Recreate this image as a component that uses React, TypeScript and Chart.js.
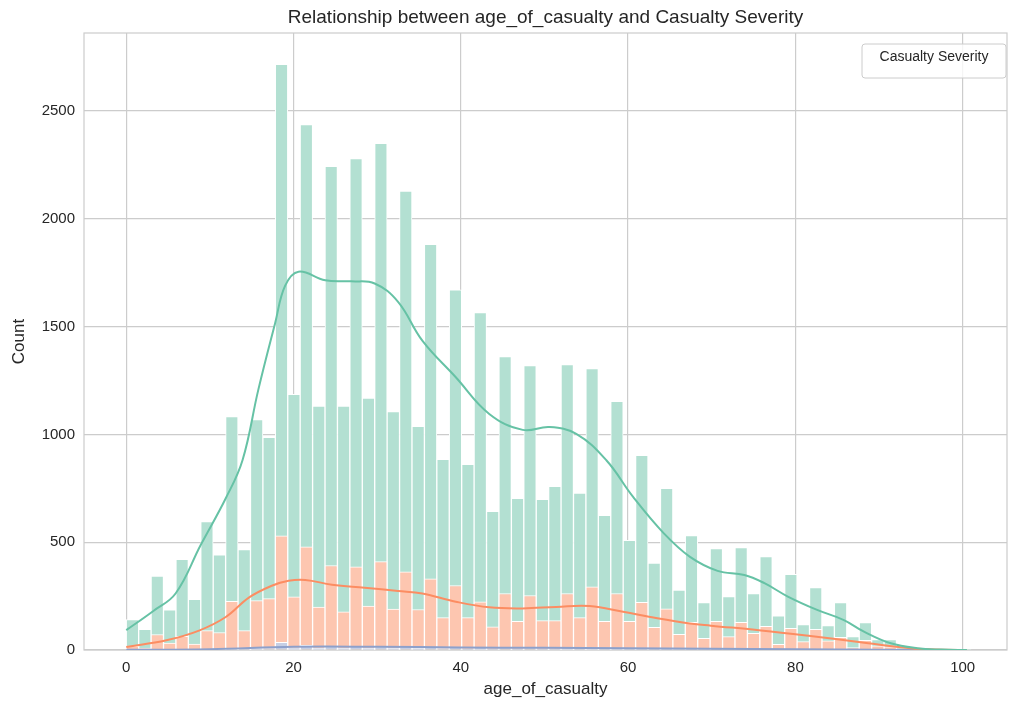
import React, { useEffect, useRef } from "react";
import { Chart, registerables } from "chart.js";
Chart.register(...registerables);

const BIN_WIDTH = 101 / 68;
const slightCounts = [141,96,343,186,420,235,596,442,1083,466,1069,987,2717,1186,2437,1132,2244,1132,2280,1168,2350,1106,2129,1037,1882,884,1671,861,1565,643,1361,704,1319,699,759,1324,728,1305,625,1153,509,903,403,750,278,531,220,471,248,475,262,433,159,351,118,289,113,220,62,127,48,48,15,5,3,1,1,1];
const seriousCounts = [18,9,72,32,63,27,90,81,226,90,229,238,530,247,478,199,392,177,386,204,410,190,363,188,330,150,299,150,224,108,262,133,253,136,136,262,150,293,133,262,133,221,105,191,73,128,54,133,62,128,77,110,26,101,39,96,43,59,11,45,19,15,5,2,1,0,0,0];
const fatalCounts = [1,0,1,0,2,1,3,2,6,3,8,7,35,10,22,9,18,8,17,9,16,8,15,8,14,7,13,6,12,5,11,6,11,5,6,10,6,9,5,8,4,6,3,5,2,4,2,3,2,3,2,2,1,2,1,1,1,1,0,1,0,0,0,0,0,0,0,0];

const slightKdeX = [0,3.2,5.9,8.9,11.9,13.9,15.8,17.8,19,20.6,23.8,26.9,29.7,32.5,35.4,39.4,43.4,47.4,50.6,53.8,57.4,60.6,64.3,67.4,70.7,73.9,76.3,79.1,82.6,85.8,88.2,91.4,94.6,97.5,100.5];
const slightKdeY = [92,180,262,487,704,880,1209,1516,1690,1755,1715,1710,1700,1615,1435,1265,1095,1021,1034,1003,880,710,540,432,367,348,310,248,186,139,85,31,8,2,0];
const seriousKdeX = [0,4.8,8.7,11.9,14.7,17.4,19.4,21.4,24.6,28.5,32.5,35.4,39.4,43.4,47.4,51.4,55.4,59.4,63.5,67.4,69.9,75.9,81.8,87.8,93.8,97.8,100.5];
const seriousKdeY = [14,45,90,153,244,298,321,325,303,289,274,262,224,198,193,200,204,177,147,123,113,91,65,36,8,1,0];
const fatalKdeX = [0,10,20,30,40,50,60,70,80,90,100];
const fatalKdeY = [1,4,15,15,12,10,8,6,4,1,0];

const xTicks = [0,20,40,60,80,100];
const yTicks = [0,500,1000,1500,2000,2500];

const GREEN = "#66c2a5", ORANGE = "#fc8d62", BLUE = "#8da0cb";
const GREEN_BAR = "rgb(179,224,210)", ORANGE_BAR = "rgb(253,198,176)", BLUE_BAR = "rgb(198,207,229)";
const FONT = "'Liberation Sans', Arial, sans-serif";

const bars = (arr: number[]) => arr.map((v, i) => ({ x: (i + 0.5) * BIN_WIDTH, y: v }));
const pts = (xs: number[], ys: number[]) => xs.map((x, i) => ({ x, y: ys[i] }));

export default function App() {
  const ref = useRef<HTMLCanvasElement>(null);
  useEffect(() => {
    document.body.style.margin = "0";
    const deco = {
      id: "deco",
      beforeDatasetsDraw(c: any) {
        const a = c.chartArea, ctx = c.ctx;
        ctx.save();
        ctx.strokeStyle = "#cccccc"; ctx.lineWidth = 1.2;
        ctx.strokeRect(a.left, a.top, a.right - a.left, a.bottom - a.top);
        ctx.restore();
      },
      afterDraw(c: any) {
        const a = c.chartArea, ctx = c.ctx;
        ctx.save();
        ctx.fillStyle = "#262626";
        ctx.textAlign = "center"; ctx.textBaseline = "middle";
        ctx.font = `19px ${FONT}`;
        ctx.fillText("Relationship between age_of_casualty and Casualty Severity", (a.left + a.right) / 2, 18);
        ctx.font = `17px ${FONT}`;
        ctx.fillText("age_of_casualty", (a.left + a.right) / 2, 689);
        ctx.translate(19, (a.top + a.bottom) / 2);
        ctx.rotate(-Math.PI / 2);
        ctx.fillText("Count", 0, 0);
        ctx.restore();
        ctx.save();
        const lx = 862, ly = 44, lw = 144, lh = 34;
        ctx.fillStyle = "rgba(255,255,255,0.8)";
        ctx.strokeStyle = "#cccccc"; ctx.lineWidth = 1;
        ctx.beginPath();
        (ctx as any).roundRect(lx, ly, lw, lh, 3);
        ctx.fill(); ctx.stroke();
        ctx.fillStyle = "#262626"; ctx.font = `14px ${FONT}`;
        ctx.textAlign = "center"; ctx.textBaseline = "middle";
        ctx.fillText("Casualty Severity", lx + lw / 2, ly + 13);
        ctx.restore();
      },
    };
    const barDs = (label: string, data: number[], color: string, order: number) => ({
      type: "bar" as const, label, data: bars(data), backgroundColor: color,
      borderColor: "#ffffff", borderWidth: 1, barPercentage: 1, categoryPercentage: 1,
      grouped: false, order,
    });
    const lineDs = (label: string, xs: number[], ys: number[], color: string) => ({
      type: "line" as const, label, data: pts(xs, ys), borderColor: color, borderWidth: 2,
      pointRadius: 0, tension: 0.4, fill: false, order: 0,
    });
    const chart = new Chart(ref.current!, {
      type: "bar",
      data: {
        datasets: [
          barDs("Slight", slightCounts, GREEN_BAR, 3),
          barDs("Serious", seriousCounts, ORANGE_BAR, 2),
          barDs("Fatal", fatalCounts, BLUE_BAR, 1),
          lineDs("Slight KDE", slightKdeX, slightKdeY, GREEN),
          lineDs("Serious KDE", seriousKdeX, seriousKdeY, ORANGE),
          lineDs("Fatal KDE", fatalKdeX, fatalKdeY, BLUE),
        ] as any,
      },
      options: {
        animation: false, responsive: false,
        layout: { padding: { top: 33, right: 16, left: 0, bottom: 0 } },
        plugins: { legend: { display: false }, tooltip: { enabled: false } },
        scales: {
          x: {
            type: "linear", min: -5.05, max: 105.3, offset: false,
            afterBuildTicks: (s: any) => { s.ticks = xTicks.map((v) => ({ value: v })); },
            afterFit: (s: any) => { s.height = 62; },
            grid: { color: "#cccccc", lineWidth: 1.2, drawTicks: false, offset: false },
            border: { display: false },
            ticks: { color: "#262626", font: { size: 15, family: FONT }, padding: 9, callback: (v: any) => String(v) },
          },
          y: {
            min: 0, max: 2862,
            afterBuildTicks: (s: any) => { s.ticks = yTicks.map((v) => ({ value: v })); },
            afterFit: (s: any) => { s.width = 84; },
            grid: { color: "#cccccc", lineWidth: 1.2, drawTicks: false },
            border: { display: false },
            ticks: { color: "#262626", font: { size: 15, family: FONT }, padding: 9, callback: (v: any) => String(v) },
          },
        },
      },
      plugins: [deco],
    } as any);
    return () => chart.destroy();
  }, []);
  return <canvas ref={ref} width={1023} height={712} style={{ display: "block", width: 1023, height: 712 }} />;
}
